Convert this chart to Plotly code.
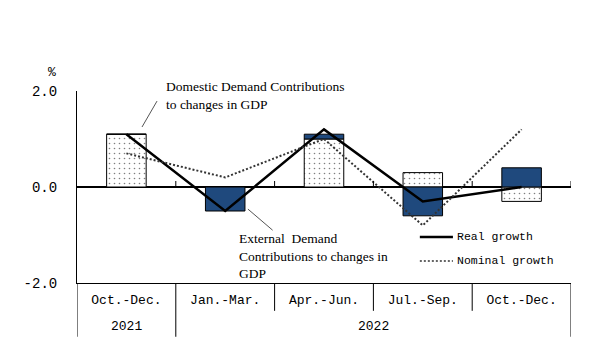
import plotly.graph_objects as go

quarters = ["Oct.-Dec.", "Jan.-Mar.", "Apr.-Jun.", "Jul.-Sep.", "Oct.-Dec."]
years = ["2021", "2022"]
domestic = [1.1, 0.0, 1.0, 0.3, -0.3]
external = [0.0, -0.5, 0.1, -0.6, 0.4]
real_growth = [1.1, -0.5, 1.2, -0.3, 0.0]
nominal_growth = [0.7, 0.2, 1.0, -0.8, 1.2]

x = list(range(len(quarters)))
NAVY = "#1f497d"
MONO = "Liberation Mono"
SERIF = "Liberation Serif"

fig = go.Figure()
fig.add_trace(go.Bar(
    x=x, y=domestic, width=0.4, showlegend=False,
    marker=dict(color="white", line=dict(color="black", width=1),
                pattern=dict(shape=".", fgcolor="black", bgcolor="white",
                             size=5, solidity=0.08, fillmode="overlay")),
))
fig.add_trace(go.Bar(
    x=x, y=external, width=0.4, showlegend=False,
    marker=dict(color=NAVY, line=dict(color="black", width=1)),
))
fig.add_trace(go.Scatter(
    x=x, y=real_growth, mode="lines", showlegend=False,
    line=dict(color="black", width=2.5),
))
fig.add_trace(go.Scatter(
    x=x, y=nominal_growth, mode="lines", showlegend=False,
    line=dict(color="#333333", width=2, dash="2px,2px"),
))

shapes = []
# upward ticks on the zero line at category boundaries
for b in [0.5, 1.5, 2.5, 3.5, 4.5]:
    shapes.append(dict(type="line", xref="x", yref="y", x0=b, x1=b, y0=0, y1=0.125,
                       line=dict(color="black", width=1)))
# table separators below the plot
for b in [0.5, 1.5, 2.5, 3.5]:
    y1 = -0.28 if b == 0.5 else -0.145
    shapes.append(dict(type="line", xref="x", yref="paper", x0=b, x1=b, y0=0, y1=y1,
                       line=dict(color="black", width=1)))
for b in [-0.5, 4.5]:
    shapes.append(dict(type="line", xref="x", yref="paper", x0=b, x1=b, y0=0, y1=-0.28,
                       line=dict(color="black", width=1)))
# leader lines
shapes.append(dict(type="line", xref="x", yref="y", x0=0.31, y0=1.79, x1=0.158, y1=1.25,
                   line=dict(color="#555555", width=1)))
shapes.append(dict(type="line", xref="x", yref="y", x0=1.23, y0=-0.46, x1=1.48, y1=-0.90,
                   line=dict(color="#555555", width=1)))
# legend samples
shapes.append(dict(type="line", xref="paper", yref="paper", x0=0.694, x1=0.761, y0=0.24, y1=0.24,
                   line=dict(color="black", width=2.5)))
shapes.append(dict(type="line", xref="paper", yref="paper", x0=0.694, x1=0.761, y0=0.115, y1=0.115,
                   line=dict(color="#333333", width=1.5, dash="2px,2px")))

annotations = [
    dict(text="Domestic Demand Contributions<br>to changes in GDP", xref="x", yref="y",
         x=0.38, y=1.9, xanchor="left", yanchor="middle", align="left", showarrow=False,
         font=dict(family=SERIF, size=13.5, color="black")),
    dict(text="External  Demand<br>Contributions to changes in<br>GDP", xref="x", yref="y",
         x=1.12, y=-1.44, xanchor="left", yanchor="middle", align="left", showarrow=False,
         font=dict(family=SERIF, size=13.5, color="black")),
    dict(text="Real growth", xref="paper", yref="paper", x=0.765, y=0.24,
         xanchor="left", yanchor="middle", showarrow=False,
         font=dict(family=MONO, size=11.5, color="black")),
    dict(text="Nominal growth", xref="paper", yref="paper", x=0.765, y=0.115,
         xanchor="left", yanchor="middle", showarrow=False,
         font=dict(family=MONO, size=11.5, color="black")),
    dict(text="%", xref="paper", yref="paper", x=-0.05, y=1.094,
         xanchor="center", yanchor="middle", showarrow=False,
         font=dict(family=MONO, size=13, color="black")),
    dict(text=years[0], xref="x", yref="paper", x=0, y=-0.224,
         xanchor="center", yanchor="middle", showarrow=False,
         font=dict(family=MONO, size=13, color="black")),
    dict(text=years[1], xref="x", yref="paper", x=2.5, y=-0.224,
         xanchor="center", yanchor="middle", showarrow=False,
         font=dict(family=MONO, size=13, color="black")),
]

fig.update_layout(
    width=592, height=342,
    margin=dict(l=69, r=29, t=83, b=67),
    paper_bgcolor="white", plot_bgcolor="white",
    barmode="relative", bargap=0.6,
    shapes=shapes, annotations=annotations,
    xaxis=dict(range=[-0.5, 4.5], tickvals=x, ticktext=quarters, ticks="",
               showline=True, linecolor="black", linewidth=1, showgrid=False,
               zeroline=False, ticklabelstandoff=4,
               tickfont=dict(family=MONO, size=13, color="black")),
    yaxis=dict(range=[-2, 2], tickvals=[-2, 0, 2], ticktext=["-2.0", "0.0", "2.0"],
               ticks="inside", ticklen=6, tickcolor="black",
               showline=True, linecolor="black", linewidth=1, showgrid=False,
               zeroline=True, zerolinecolor="black", zerolinewidth=1.5,
               ticklabelstandoff=16,
               tickfont=dict(family=MONO, size=14, color="black")),
)

fig.write_html("out.html")
